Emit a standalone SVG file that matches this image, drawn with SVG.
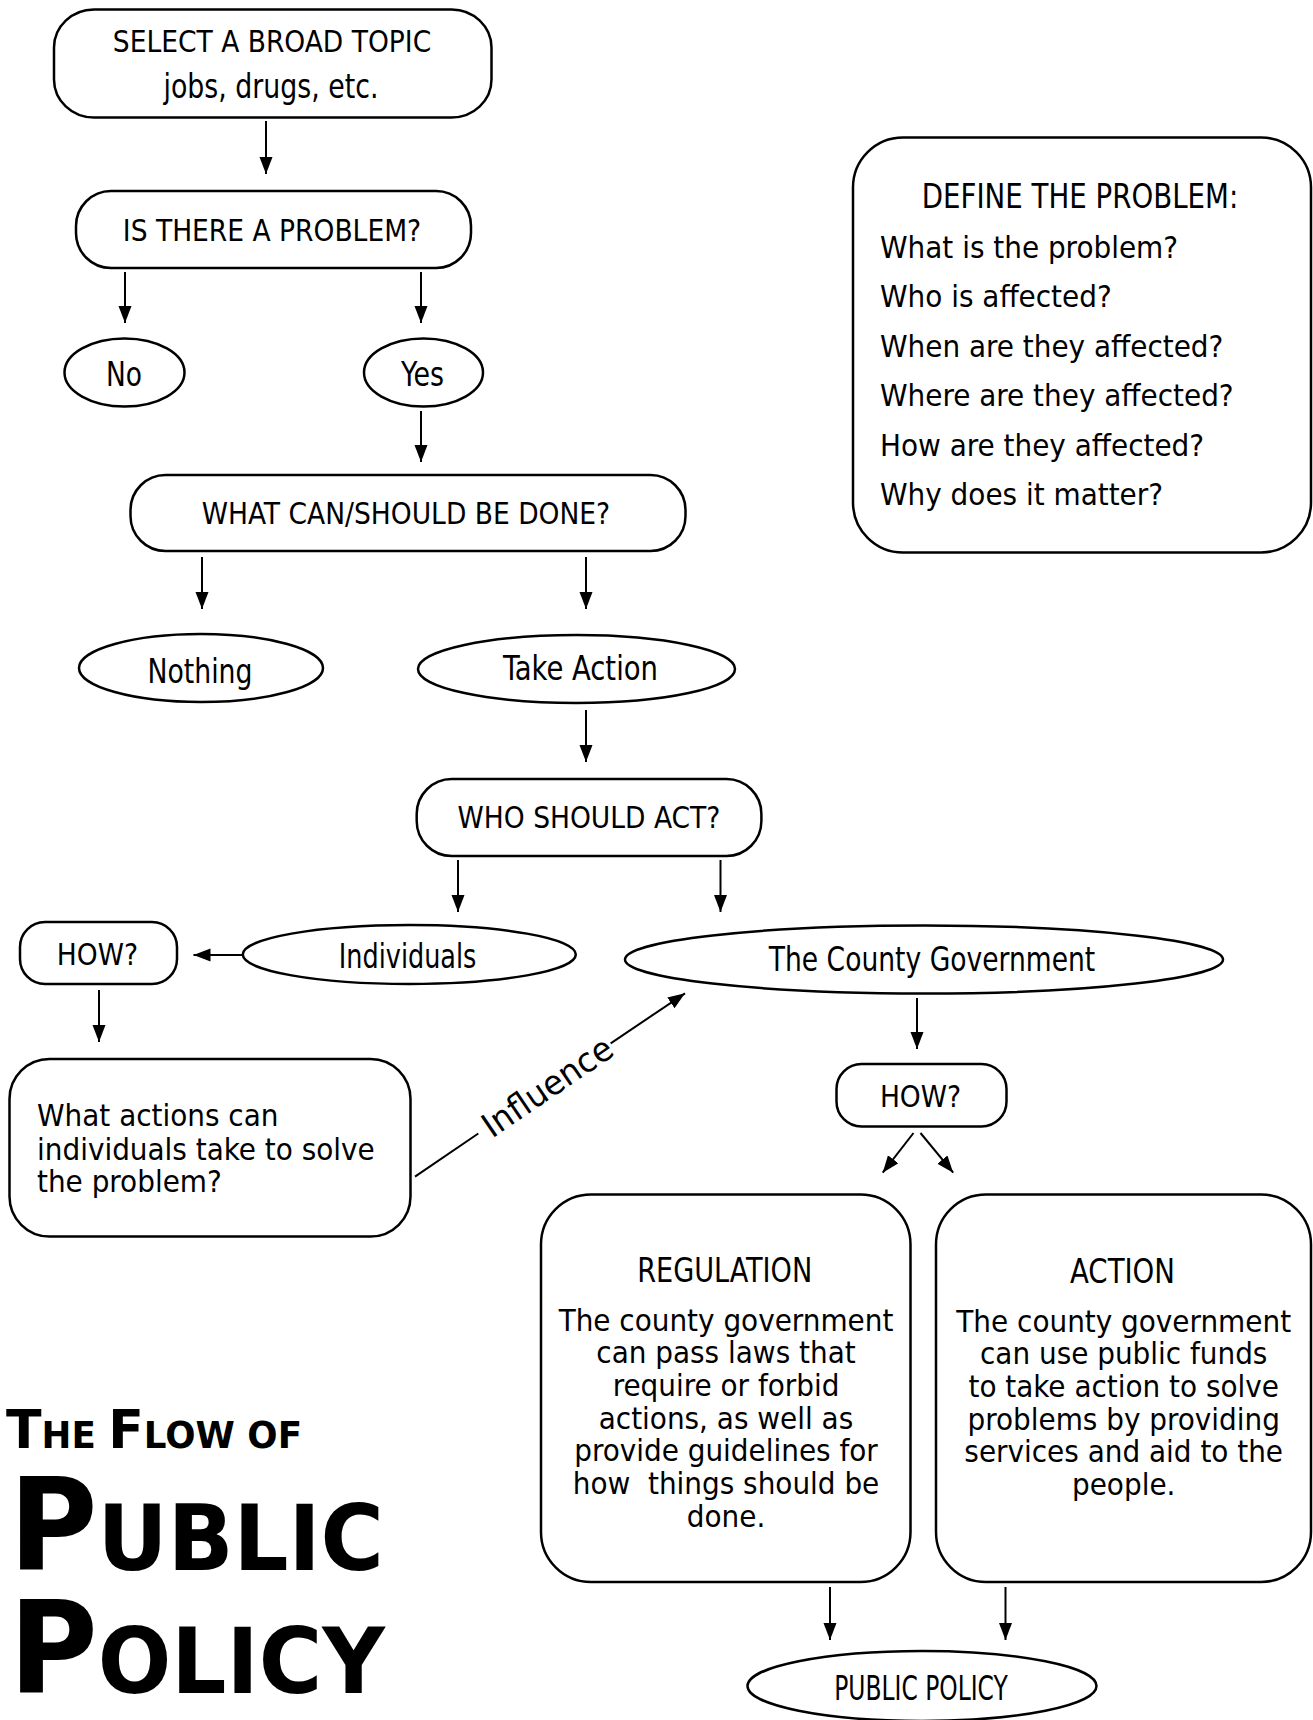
<svg xmlns="http://www.w3.org/2000/svg" width="1313" height="1720" viewBox="0 0 1313 1720">
<style>
.box{fill:#fff;stroke:#000;stroke-width:2.5}
.conn{stroke:#000;stroke-width:2;fill:none}
.t{font-family:"DejaVu Sans Condensed","DejaVu Sans",sans-serif;font-stretch:condensed;font-size:29.5px;text-anchor:middle;fill:#000}
.b{font-family:"DejaVu Sans Condensed","DejaVu Sans",sans-serif;font-stretch:condensed;font-size:31px;fill:#000}
.bc{text-anchor:middle}
.h{font-family:"Liberation Sans Narrow","DejaVu Sans Condensed",sans-serif;font-stretch:condensed;font-size:34px;text-anchor:middle;fill:#000}
.title{font-family:"DejaVu Sans","Liberation Sans",sans-serif;font-weight:bold;fill:#000}
</style>
<defs>
<marker id="arr" markerUnits="userSpaceOnUse" markerWidth="18" markerHeight="14" refX="17" refY="6.5" orient="auto">
<path d="M0,0 L17,6.5 L0,13 z" fill="#000"/>
</marker>
</defs>
<g id="connectors">
<line class="conn" x1="266" y1="121" x2="266" y2="174" marker-end="url(#arr)"/>
<line class="conn" x1="125" y1="272" x2="125" y2="323" marker-end="url(#arr)"/>
<line class="conn" x1="421" y1="272" x2="421" y2="323" marker-end="url(#arr)"/>
<line class="conn" x1="421" y1="411" x2="421" y2="462" marker-end="url(#arr)"/>
<line class="conn" x1="202" y1="557" x2="202" y2="609" marker-end="url(#arr)"/>
<line class="conn" x1="586" y1="557" x2="586" y2="609" marker-end="url(#arr)"/>
<line class="conn" x1="586" y1="710" x2="586" y2="762" marker-end="url(#arr)"/>
<line class="conn" x1="458" y1="860" x2="458" y2="912" marker-end="url(#arr)"/>
<line class="conn" x1="720.5" y1="860" x2="720.5" y2="912" marker-end="url(#arr)"/>
<line class="conn" x1="243" y1="955" x2="193.5" y2="955" marker-end="url(#arr)"/>
<line class="conn" x1="99" y1="990" x2="99" y2="1042" marker-end="url(#arr)"/>
<line class="conn" x1="917" y1="998" x2="917" y2="1049" marker-end="url(#arr)"/>
<line class="conn" x1="913.5" y1="1133" x2="882.7" y2="1172.7" marker-end="url(#arr)"/>
<line class="conn" x1="920.5" y1="1133" x2="953.2" y2="1172.7" marker-end="url(#arr)"/>
<line class="conn" x1="830" y1="1587" x2="830" y2="1640" marker-end="url(#arr)"/>
<line class="conn" x1="1005.5" y1="1587" x2="1005.5" y2="1640" marker-end="url(#arr)"/>
<line class="conn" x1="415" y1="1176.7" x2="478.3" y2="1133.5"/>
<line class="conn" x1="610.7" y1="1043.3" x2="685" y2="993.3" marker-end="url(#arr)"/>
<text class="h" x="547.4" y="1098.5" font-size="34" textLength="150" lengthAdjust="spacingAndGlyphs" transform="rotate(-34.2 547.4 1086.8)">Influence</text>
</g>
<g id="n-select">
<rect class="box" x="54" y="9.5" width="437.5" height="108" rx="40" ry="38"/>
<text class="t" x="272" y="52">SELECT A BROAD TOPIC</text>
<text class="h" x="271" y="98" textLength="215" lengthAdjust="spacingAndGlyphs">jobs, drugs, etc.</text>
</g>
<g id="n-problem">
<rect class="box" x="76" y="191" width="395" height="77" rx="35"/>
<text class="t" x="272" y="241">IS THERE A PROBLEM?</text>
</g>
<g id="n-no">
<ellipse class="box" cx="124.5" cy="372.5" rx="60" ry="34"/>
<text class="h" x="124" y="386" textLength="36" lengthAdjust="spacingAndGlyphs">No</text>
</g>
<g id="n-yes">
<ellipse class="box" cx="423.5" cy="372.5" rx="59.5" ry="34"/>
<text class="h" x="422.5" y="386" textLength="43" lengthAdjust="spacingAndGlyphs">Yes</text>
</g>
<g id="n-whatcan">
<rect class="box" x="130.5" y="475" width="555" height="76" rx="35"/>
<text class="t" x="406" y="524">WHAT CAN/SHOULD BE DONE?</text>
</g>
<g id="n-nothing">
<ellipse class="box" cx="201" cy="668" rx="122" ry="34"/>
<text class="h" x="200" y="683" textLength="105" lengthAdjust="spacingAndGlyphs">Nothing</text>
</g>
<g id="n-takeaction">
<ellipse class="box" cx="576.5" cy="669" rx="158.5" ry="34"/>
<text class="h" x="580.5" y="680" textLength="155" lengthAdjust="spacingAndGlyphs">Take Action</text>
</g>
<g id="n-who">
<rect class="box" x="416.7" y="779" width="344.7" height="77" rx="35"/>
<text class="t" x="589" y="828">WHO SHOULD ACT?</text>
</g>
<g id="n-how1">
<rect class="box" x="20" y="922" width="157" height="62" rx="25"/>
<text class="t" x="97.4" y="965">HOW?</text>
</g>
<g id="n-individuals">
<ellipse class="box" cx="409.3" cy="954.5" rx="166.5" ry="29.5"/>
<text class="h" x="407.6" y="968.3" textLength="137.6" lengthAdjust="spacingAndGlyphs">Individuals</text>
</g>
<g id="n-county">
<ellipse class="box" cx="924" cy="959.5" rx="299" ry="34"/>
<text class="h" x="932" y="970.7" textLength="326.5" lengthAdjust="spacingAndGlyphs">The County Government</text>
</g>
<g id="n-whatactions">
<rect class="box" x="9.5" y="1059" width="401" height="177.5" rx="40"/>
<text class="b" x="37" y="1126.3">What actions can</text>
<text class="b" x="37" y="1159.8">individuals take to solve</text>
<text class="b" x="37" y="1192">the problem?</text>
</g>
<g id="n-how2">
<rect class="box" x="836.5" y="1064" width="170" height="62.5" rx="25"/>
<text class="t" x="920.5" y="1106.7">HOW?</text>
</g>
<g id="n-regulation">
<rect class="box" x="541" y="1194.5" width="369.5" height="387.5" rx="50"/>
<text class="h" x="724.7" y="1281.6" textLength="175" lengthAdjust="spacingAndGlyphs">REGULATION</text>
<text class="b bc" x="726" y="1330.5">The county government</text>
<text class="b bc" x="726" y="1363.2">can pass laws that</text>
<text class="b bc" x="726" y="1395.9">require or forbid</text>
<text class="b bc" x="726" y="1428.6">actions, as well as</text>
<text class="b bc" x="726" y="1461.3">provide guidelines for</text>
<text class="b bc" x="726" y="1494" xml:space="preserve">how  things should be</text>
<text class="b bc" x="726" y="1526.7">done.</text>
</g>
<g id="n-action">
<rect class="box" x="936" y="1194.5" width="375" height="387.5" rx="50"/>
<text class="h" x="1122.5" y="1283" textLength="105" lengthAdjust="spacingAndGlyphs">ACTION</text>
<text class="b bc" x="1123.7" y="1331.5">The county government</text>
<text class="b bc" x="1123.7" y="1364.2">can use public funds</text>
<text class="b bc" x="1123.7" y="1396.9">to take action to solve</text>
<text class="b bc" x="1123.7" y="1429.6">problems by providing</text>
<text class="b bc" x="1123.7" y="1462.3">services and aid to the</text>
<text class="b bc" x="1123.7" y="1495">people.</text>
</g>
<g id="n-publicpolicy">
<ellipse class="box" cx="922" cy="1686" rx="174.5" ry="35"/>
<text class="h" x="921" y="1700" font-size="29" textLength="173.5" lengthAdjust="spacingAndGlyphs">PUBLIC POLICY</text>
</g>
<g id="n-define">
<rect class="box" x="853" y="137.5" width="458" height="415" rx="50"/>
<text class="h" x="1080" y="208.3" textLength="316.6" lengthAdjust="spacingAndGlyphs">DEFINE THE PROBLEM:</text>
<text class="b" x="880" y="258">What is the problem?</text>
<text class="b" x="880" y="307">Who is affected?</text>
<text class="b" x="880" y="356.5">When are they affected?</text>
<text class="b" x="880" y="406">Where are they affected?</text>
<text class="b" x="880" y="455.5">How are they affected?</text>
<text class="b" x="880" y="505">Why does it matter?</text>
</g>
<g id="title">
<text class="title" x="6" y="1448.3" font-size="53.5" textLength="296" lengthAdjust="spacingAndGlyphs">T<tspan font-size="36.6">HE </tspan>F<tspan font-size="36.6">LOW OF</tspan></text>
<text class="title" x="9" y="1570" font-size="128" textLength="375" lengthAdjust="spacingAndGlyphs">P<tspan font-size="91.5">UBLIC</tspan></text>
<text class="title" x="9" y="1693.3" font-size="128" textLength="376" lengthAdjust="spacingAndGlyphs">P<tspan font-size="91.5">OLICY</tspan></text>
</g>
</svg>
